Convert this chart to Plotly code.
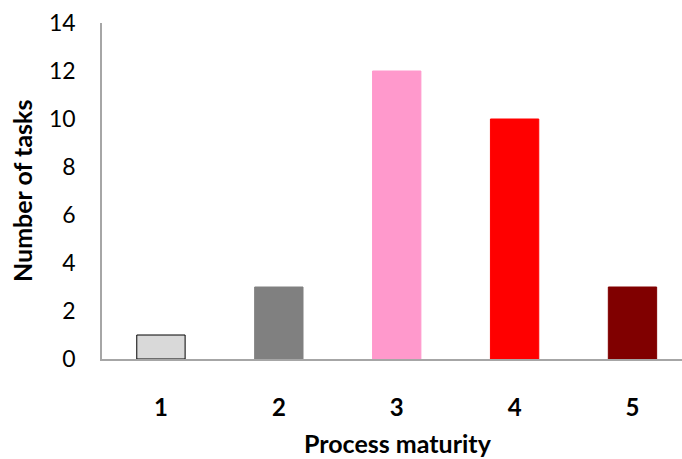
import plotly.graph_objects as go

categories = [1, 2, 3, 4, 5]
tasks = [1, 3, 12, 10, 3]
bar_colors = ["#D9D9D9", "#808080", "#FF99CC", "#FF0000", "#800000"]
line_colors = ["#000000", "#808080", "#FF99CC", "#FF0000", "#800000"]
y_ticks = [0, 2, 4, 6, 8, 10, 12, 14]

fig = go.Figure(go.Bar(
    x=categories, y=tasks, width=0.41,
    marker=dict(color=bar_colors, line=dict(color=line_colors, width=1)),
))

font = "Lato, 'Open Sans', sans-serif"
fig.update_layout(
    width=682, height=459,
    margin=dict(l=102, r=0, t=23, b=100, autoexpand=False),
    plot_bgcolor="white", paper_bgcolor="white",
    showlegend=False,
    font=dict(family=font, color="black"),
    xaxis=dict(
        range=[0.5, 5.42], tickvals=categories, ticktext=[str(c) for c in categories],
        showline=True, linecolor="#A6A6A6", linewidth=1.5, showgrid=False,
        ticks="", tickfont=dict(size=24, family=font, weight="bold"),
        ticklabelstandoff=26, automargin=False, zeroline=False,
    ),
    yaxis=dict(
        range=[0, 14], tickvals=y_ticks,
        showline=True, linecolor="#A6A6A6", linewidth=1.5, showgrid=False,
        ticks="", tickfont=dict(size=23), ticklabelstandoff=20,
        automargin=False, zeroline=False,
    ),
    annotations=[
        dict(text="<b>Process maturity</b>", xref="paper", yref="paper",
             x=0.511, y=0, yshift=-84, showarrow=False, font=dict(size=25),
             xanchor="center", yanchor="middle"),
        dict(text="<b>Number of tasks</b>", xref="paper", yref="paper",
             x=0, xshift=-80, y=0.5, showarrow=False, font=dict(size=25),
             textangle=-90, xanchor="center", yanchor="middle"),
    ],
)

fig.write_html("out.html", config={"displayModeBar": False},
               post_script="document.body.style.margin='0';document.body.style.overflow='hidden';")
